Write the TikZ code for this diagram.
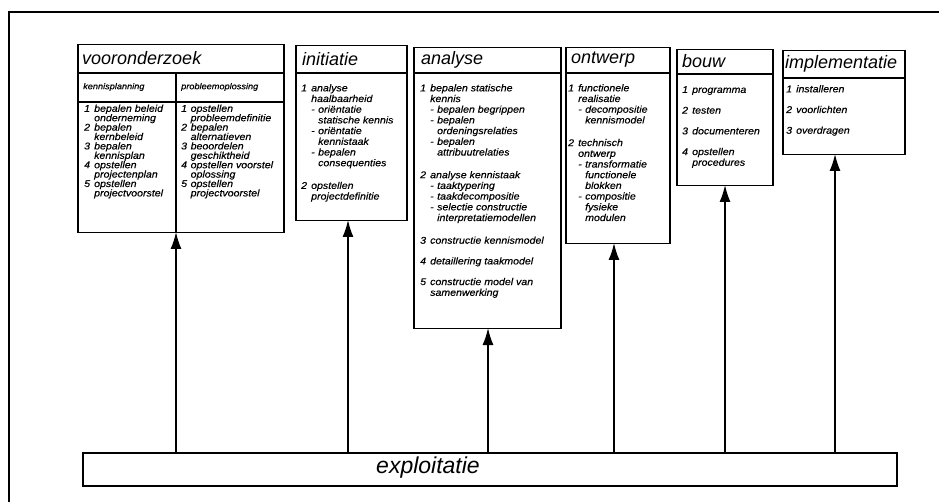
\documentclass[tikz,border=0pt]{standalone}
\usepackage{fontspec}
\setmainfont{Liberation Sans}
\newfontfamily\bodyfont[FakeStretch=1.08,FakeBold=0.4]{Liberation Sans}
\usetikzlibrary{arrows.meta}
% hanging indents for the numbered steps
\newlength{\nrw}\setlength{\nrw}{10pt}
\newlength{\dw}\setlength{\dw}{7pt}
\newcommand{\itm}[2]{\makebox[\nrw][l]{#1}#2}
\newcommand{\itmc}[1]{\hspace*{\nrw}#1}
\newcommand{\dsh}[1]{\hspace*{\nrw}\makebox[\dw][l]{-}#1}
\newcommand{\dshc}[1]{\hspace*{\nrw}\hspace*{\dw}#1}
\tikzset{
  phasebox/.style={draw,line width=1.5pt,inner sep=0pt,anchor=north west},
  phasetitle/.style={anchor=west,inner sep=0pt,font=\fontsize{18}{20}\selectfont\itshape},
  phasebody/.style={anchor=north west,inner sep=0pt,align=left,
    font=\bodyfont\fontsize{9.8}{10.7}\selectfont\itshape},
  sublabel/.style={anchor=west,inner sep=0pt,font=\bodyfont\fontsize{8.5}{9}\selectfont\itshape},
  arr/.style={-{Latex[length=17pt,width=11pt]},line width=1.5pt},
}
\begin{document}
\begin{tikzpicture}[x=1pt,y=-1pt,line join=miter]
\useasboundingbox (0,0) rectangle (939,502);
%% outer frame
\draw[line width=1.6pt] (9,510) -- (9,12) -- (945,12);
%% phase boxes
\node[phasebox,minimum width=206pt,minimum height=188pt] (voor) at (77,44) {};
\node[phasebox,minimum width=111pt,minimum height=175pt] (init) at (295,45) {};
\node[phasebox,minimum width=147pt,minimum height=281pt] (ana) at (413,47) {};
\node[phasebox,minimum width=104pt,minimum height=196pt] (ont) at (565,47) {};
\node[phasebox,minimum width=96pt,minimum height=136pt] (bouw) at (676,49) {};
\node[phasebox,minimum width=122pt,minimum height=104pt] (impl) at (782,50) {};
\node[phasebox,minimum width=814pt,minimum height=33pt] (exploit) at (82,452) {};
%
\draw[line width=1.2pt] (voor.west |- 0,73) -- (voor.east |- 0,73);
\draw[line width=1.2pt] (voor.west |- 0,102) -- (voor.east |- 0,102);
\draw[line width=1.2pt] (176,73) -- (176,232);
\draw[line width=1.2pt] (init.west |- 0,73) -- (init.east |- 0,73);
\draw[line width=1.2pt] (ana.west |- 0,73) -- (ana.east |- 0,73);
\draw[line width=1.2pt] (ont.west |- 0,73) -- (ont.east |- 0,73);
\draw[line width=1.2pt] (bouw.west |- 0,74) -- (bouw.east |- 0,74);
\draw[line width=1.2pt] (impl.west |- 0,78) -- (impl.east |- 0,78);
%% titles
\node[phasetitle] (voor-t) at (82,58) {vooronderzoek};
\node[phasetitle] (init-t) at (302,59) {initiatie};
\node[phasetitle] (ana-t) at (421,60) {analyse};
\node[phasetitle] (ont-t) at (571,60) {ontwerp};
\node[phasetitle] (bouw-t) at (682,61.5) {bouw};
\node[phasetitle] (impl-t) at (785,64) {implementatie};
\node[sublabel] (voor-ls) at (83,87) {kennisplanning};
\node[sublabel] (voor-rs) at (181,87) {probleemoplossing};
%% steps
\node[phasebody,font=\bodyfont\fontsize{9.8}{9.4}\selectfont\itshape] (voor-l) at (84,104.5) {%
  \itm{1}{bepalen beleid}\\ \itmc{onderneming}\\
  \itm{2}{bepalen}\\ \itmc{kernbeleid}\\
  \itm{3}{bepalen}\\ \itmc{kennisplan}\\
  \itm{4}{opstellen}\\ \itmc{projectenplan}\\
  \itm{5}{opstellen}\\ \itmc{projectvoorstel}};
\node[phasebody,font=\bodyfont\fontsize{9.8}{9.4}\selectfont\itshape,
  execute at begin node={\setlength{\nrw}{9.5pt}}] (voor-r) at (181,104.5) {%
  \itm{1}{opstellen}\\ \itmc{probleemdefinitie}\\
  \itm{2}{bepalen}\\ \itmc{alternatieven}\\
  \itm{3}{beoordelen}\\ \itmc{geschiktheid}\\
  \itm{4}{opstellen voorstel}\\ \itmc{oplossing}\\
  \itm{5}{opstellen}\\ \itmc{projectvoorstel}};
\node[phasebody] (init-b) at (301,84) {%
  \itm{1}{analyse}\\ \itmc{haalbaarheid}\\
  \dsh{oriëntatie}\\ \dshc{statische kennis}\\
  \dsh{oriëntatie}\\ \dshc{kennistaak}\\
  \dsh{bepalen}\\ \dshc{consequenties}\\[12pt]
  \itm{2}{opstellen}\\ \itmc{projectdefinitie}};
\node[phasebody] (ana-b) at (420,84) {%
  \itm{1}{bepalen statische}\\ \itmc{kennis}\\
  \dsh{bepalen begrippen}\\
  \dsh{bepalen}\\ \dshc{ordeningsrelaties}\\
  \dsh{bepalen}\\ \dshc{attribuutrelaties}\\[12pt]
  \itm{2}{analyse kennistaak}\\
  \dsh{taaktypering}\\
  \dsh{taakdecompositie}\\
  \dsh{selectie constructie}\\ \dshc{interpretatiemodellen}\\[12pt]
  \itm{3}{constructie kennismodel}\\[10pt]
  \itm{4}{detaillering taakmodel}\\[10pt]
  \itm{5}{constructie model van}\\ \itmc{samenwerking}};
\node[phasebody] (ont-b) at (568,84) {%
  \itm{1}{functionele}\\ \itmc{realisatie}\\
  \dsh{decompositie}\\ \dshc{kennismodel}\\[12pt]
  \itm{2}{technisch}\\ \itmc{ontwerp}\\
  \dsh{transformatie}\\ \dshc{functionele}\\ \dshc{blokken}\\
  \dsh{compositie}\\ \dshc{fysieke}\\ \dshc{modulen}};
\node[phasebody] (bouw-b) at (682,86) {%
  \itm{1}{programma}\\[10pt]
  \itm{2}{testen}\\[10pt]
  \itm{3}{documenteren}\\[10pt]
  \itm{4}{opstellen}\\ \itmc{procedures}};
\node[phasebody] (impl-b) at (786,85) {%
  \itm{1}{installeren}\\[10pt]
  \itm{2}{voorlichten}\\[10pt]
  \itm{3}{overdragen}};
\node[font=\fontsize{23}{25}\selectfont\itshape,inner sep=0pt] (exploit-t) at (428,468) {exploitatie};
%% arrows from exploitatie up to every phase
\coordinate (voor-in) at (176,232);
\coordinate (init-in) at (348,220);
\coordinate (ana-in) at (488,328);
\coordinate (ont-in) at (614,243);
\coordinate (bouw-in) at (725,185);
\coordinate (impl-in) at (835,154);
\foreach \p in {voor,init,ana,ont,bouw,impl}
  \draw[arr] (exploit.north -| \p-in) -- (\p-in);
%
\end{tikzpicture}
\end{document}
